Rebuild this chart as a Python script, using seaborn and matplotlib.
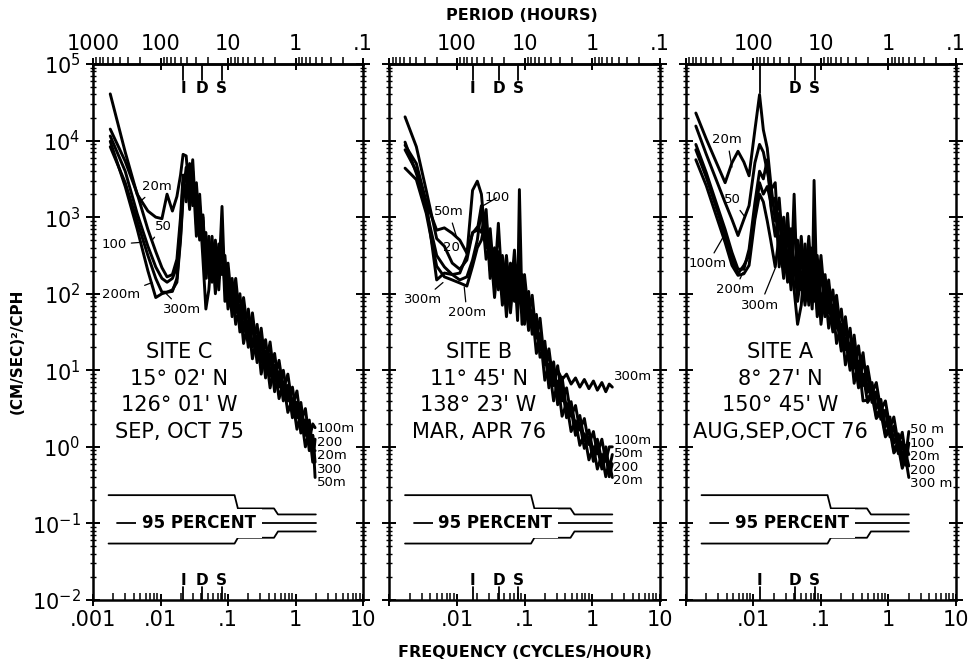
import matplotlib
matplotlib.use("Agg")
import matplotlib.pyplot as plt
import matplotlib.ticker as mticker
import numpy as np
import pandas as pd
import seaborn as sns

sns.set_style("ticks", {"axes.edgecolor": "black", "xtick.color": "black", "ytick.color": "black",
                        "text.color": "black", "axes.labelcolor": "black"})
plt.rcParams["font.family"] = ["DejaVu Sans"]
plt.rcParams["axes.unicode_minus"] = False

DEPTHS = ["20m", "50m", "100m", "200m", "300m"]

# spectral levels in decades (log10 of (cm/s)^2/cph)

# site C
FREQ_C = [0.0018, 0.003, 0.0045, 0.0065, 0.0085, 0.0105, 0.0125, 0.015, 0.0175, 0.0198, 0.0216,
          0.024, 0.027, 0.030, 0.034, 0.038, 0.0425, 0.047, 0.052, 0.058, 0.065, 0.073, 0.0815,
          0.09, 0.10, 0.115, 0.13, 0.15, 0.17, 0.20, 0.23, 0.27, 0.31, 0.36, 0.42, 0.49, 0.57,
          0.66, 0.77, 0.90, 1.05, 1.2, 1.4, 1.6, 1.8, 1.95]
LOGP_C_20 = [4.61, 3.85, 3.30, 3.08, 3.0, 2.98, 3.30, 3.08, 3.27, 3.55, 3.82,
             3.8, 3.25, 3.75, 2.9, 3.3, 2.6, 2.8, 2.2, 2.75, 2.15, 2.65, 2.4, 2.5,
             1.95, 2.2, 1.75, 2.0, 1.5, 1.8, 1.3, 1.6, 1.1, 1.4, 0.92, 1.22,
             0.78, 1.0, 0.6, 0.78, 0.38, 0.58, 0.15, 0.35, -0.05, -0.05]
LOGP_C_50 = [4.15, 3.73, 3.31, 2.84, 2.55, 2.34, 2.22, 2.25, 2.45, 3.0, 3.55,
             3.2, 3.65, 3.15, 3.3, 2.7, 3.0, 2.2, 2.6, 2.15, 2.55, 2.05, 2.8, 1.9,
             2.25, 1.7, 2.05, 1.5, 1.8, 1.3, 1.6, 1.1, 1.4, 0.9, 1.22, 0.72,
             0.98, 0.6, 0.8, 0.38, 0.58, 0.18, 0.35, -0.05, 0.15, -0.4]
LOGP_C_100 = [4.06, 3.6, 3.05, 2.62, 2.35, 2.2, 2.15, 2.2, 2.35, 2.9, 3.45,
              3.35, 3.7, 3.3, 3.45, 2.85, 3.03, 2.35, 2.75, 2.3, 2.7, 2.2, 3.14, 2.05,
              2.4, 1.85, 2.2, 1.65, 1.95, 1.45, 1.75, 1.25, 1.55, 1.05, 1.37, 0.87,
              1.13, 0.75, 0.95, 0.53, 0.73, 0.33, 0.5, 0.1, 0.3, 0.25]
LOGP_C_200 = [3.99, 3.4, 2.85, 2.3, 1.95, 2.0, 2.02, 2.03, 2.2, 2.75, 3.3,
              3.65, 3.1, 3.6, 2.75, 3.15, 2.45, 1.8, 2.05, 2.6, 2.0, 2.5, 2.25, 2.35,
              1.8, 2.05, 1.6, 1.85, 1.35, 1.65, 1.15, 1.45, 0.95, 1.25, 0.77, 1.07,
              0.63, 0.85, 0.45, 0.63, 0.23, 0.43, 0.0, 0.2, -0.2, 0.1]
LOGP_C_300 = [3.92, 3.45, 2.95, 2.5, 2.2, 2.02, 2.02, 2.05, 2.15, 2.7, 3.25,
              3.35, 3.6, 3.3, 3.25, 2.85, 2.95, 2.35, 2.52, 2.3, 2.47, 2.2, 2.75, 2.05,
              2.22, 1.83, 2.02, 1.63, 1.77, 1.43, 1.57, 1.23, 1.37, 1.03, 1.19, 0.85,
              0.98, 0.7, 0.8, 0.48, 0.58, 0.28, 0.35, 0.05, 0.15, -0.2]

# site B
FREQ_B = [0.0017, 0.0025, 0.0035, 0.005, 0.0065, 0.0085, 0.011, 0.014, 0.017, 0.020,
          0.023, 0.027, 0.031, 0.036, 0.041, 0.047, 0.054, 0.062, 0.071, 0.079, 0.084, 0.092, 0.10,
          0.115, 0.13, 0.15, 0.17, 0.20, 0.23, 0.27, 0.31, 0.36, 0.42, 0.49, 0.57, 0.66, 0.77,
          0.90, 1.05, 1.2, 1.4, 1.6, 1.8, 2.0]
LOGP_B_20 = [4.31, 3.92, 3.35, 2.72, 2.62, 2.40, 2.32, 2.44, 2.80, 2.83,
             3.15, 2.45, 2.65, 1.95, 2.5, 1.85, 2.3, 1.75, 2.35, 1.65, 2.35, 1.6, 2.05,
             1.52, 1.78, 1.22, 1.48, 0.87, 1.08, 0.6, 0.86, 0.4, 0.57, 0.2, 0.34, 0.02, 0.17,
             -0.17, 0.0, -0.29, -0.1, -0.39, -0.2, -0.4]
LOGP_B_50 = [3.94, 3.70, 3.2, 2.83, 2.86, 2.79, 2.70, 2.53, 2.79, 2.87,
             2.8, 3.1, 2.3, 2.6, 2.15, 2.5, 1.95, 2.4, 2.0, 2.3, 2.0, 2.25, 1.7,
             2.03, 1.57, 1.73, 1.27, 1.38, 0.87, 1.11, 0.65, 0.91, 0.48, 0.59, 0.25, 0.41, 0.08,
             0.22, -0.09, 0.1, -0.19, 0.0, -0.29, -0.1]
LOGP_B_100 = [3.88, 3.60, 3.1, 2.5, 2.35, 2.25, 2.27, 2.5, 3.35, 3.47,
              3.3, 2.6, 2.85, 2.15, 2.92, 2.05, 2.5, 1.95, 2.57, 1.85, 3.36, 1.8, 2.25,
              1.72, 1.98, 1.42, 1.68, 1.07, 1.28, 0.8, 1.06, 0.6, 0.77, 0.4, 0.54, 0.22, 0.37,
              0.03, 0.2, -0.09, 0.1, -0.19, 0.0, 0.0]
LOGP_B_200 = [3.64, 3.49, 3.05, 2.36, 2.22, 2.18, 2.14, 2.10, 2.36, 2.6,
              2.7, 3.0, 2.2, 2.5, 2.05, 2.4, 1.7, 2.3, 1.9, 2.2, 1.9, 2.15, 1.6,
              1.93, 1.47, 1.63, 1.17, 1.28, 0.77, 1.01, 0.55, 0.81, 0.38, 0.49, 0.15, 0.31, -0.02,
              0.12, -0.19, 0.0, -0.29, -0.1, -0.39, -0.22]
LOGP_B_300 = [3.98, 3.57, 3.2, 2.18, 2.27, 2.25, 2.18, 2.22, 2.44, 2.7,
              3.1, 2.6, 2.7, 2.1, 2.55, 2.0, 2.35, 1.9, 2.4, 1.8, 2.4, 1.75, 2.1,
              1.65, 1.75, 1.45, 1.45, 1.2, 1.15, 0.98, 1.0, 0.88, 0.95, 0.82, 0.9, 0.78, 0.88,
              0.76, 0.86, 0.74, 0.84, 0.72, 0.82, 0.78]

# site A
FREQ_A = [0.0014, 0.002, 0.0028, 0.0038, 0.0048, 0.0059, 0.0072, 0.0086, 0.0105, 0.0123,
          0.014, 0.016, 0.018, 0.021, 0.024, 0.028, 0.032, 0.036, 0.040, 0.045, 0.051, 0.058,
          0.066, 0.074, 0.079, 0.088, 0.10,
          0.115, 0.13, 0.15, 0.17, 0.20, 0.23, 0.27, 0.31, 0.36, 0.42, 0.49, 0.57, 0.66, 0.77,
          0.90, 1.05, 1.2, 1.4, 1.6, 1.8, 2.0]
LOGP_A_20 = [4.36, 4.02, 3.72, 3.45, 3.71, 3.86, 3.72, 3.54, 4.14, 4.60,
             4.14, 3.9, 3.45, 2.95, 3.25, 2.5, 3.05, 2.35, 2.95, 2.2, 2.75, 2.15, 2.75, 2.1, 2.8, 2.0, 2.5,
             1.88, 2.18, 1.68, 1.98, 1.43, 1.7, 1.18, 1.46, 0.95, 1.23, 0.71, 0.84, 0.5, 0.62,
             0.26, 0.39, 0.05, 0.17, -0.15, 0.02, -0.1]
LOGP_A_50 = [4.19, 3.82, 3.49, 3.19, 2.97, 2.76, 2.97, 3.15, 3.71, 3.95,
             3.85, 3.6, 3.35, 3.45, 2.55, 3.0, 2.35, 2.85, 2.25, 2.7, 2.05, 2.65, 2.05, 2.6, 2.1, 2.5, 1.8,
             2.25, 1.75, 2.05, 1.55, 1.8, 1.27, 1.55, 1.03, 1.32, 0.8, 1.05, 0.7, 0.84, 0.48,
             0.6, 0.25, 0.39, 0.03, 0.19, -0.12, 0.2]
LOGP_A_100 = [3.95, 3.58, 3.19, 2.84, 2.54, 2.32, 2.32, 2.58, 3.19, 3.6,
              3.5, 3.75, 3.15, 2.75, 3.05, 2.3, 2.85, 2.15, 3.3, 2.0, 2.55, 1.95, 2.55, 1.9, 3.48, 1.8, 2.3,
              1.75, 2.05, 1.55, 1.85, 1.3, 1.57, 1.05, 1.33, 0.82, 1.1, 0.93, 0.58, 0.72, 0.36,
              0.48, 0.13, 0.27, -0.09, 0.07, -0.24, 0.05]
LOGP_A_200 = [3.88, 3.52, 3.13, 2.76, 2.45, 2.26, 2.37, 2.50, 3.02, 3.45,
              3.3, 3.4, 3.2, 3.25, 2.35, 2.8, 2.15, 2.65, 2.05, 1.6, 1.85, 2.45, 1.85, 2.4, 1.9, 2.3, 1.6,
              2.05, 1.55, 1.85, 1.35, 1.6, 1.07, 1.35, 0.83, 1.12, 0.6, 0.61, 0.74, 0.4, 0.52,
              0.16, 0.29, -0.05, 0.07, -0.25, -0.08, -0.25]
LOGP_A_300 = [3.75, 3.41, 3.02, 2.67, 2.37, 2.24, 2.26, 2.37, 2.97, 3.30,
              3.2, 2.95, 2.7, 2.35, 2.75, 2.2, 2.55, 2.05, 2.45, 1.9, 2.25, 1.85, 2.25, 1.8, 2.3, 1.7, 2.0,
              1.7, 1.9, 1.5, 1.7, 1.25, 1.42, 1.0, 1.18, 0.77, 0.95, 0.58, 0.67, 0.37, 0.45,
              0.13, 0.22, -0.08, 0.0, -0.28, -0.15, -0.4]

# inertial (I), diurnal (D) and semidiurnal (S) frequencies, cph
INERTIAL_FREQ = [0.0216, 0.0170, 0.0123]
DIURNAL_FREQ = 0.0417
SEMIDIURNAL_FREQ = 0.0805

# 95 percent confidence bar
CI_FREQ = [0.0017, 0.125, 0.14, 0.48, 0.55, 2.0]
CI_UPPER = [0.234, 0.234, 0.157, 0.157, 0.131, 0.131]
CI_LOWER = [0.0546, 0.0546, 0.065, 0.065, 0.0785, 0.0785]
CI_MID_FREQ = [0.0023, 2.0]
CI_MID = [0.1, 0.1]

SITE_LABELS = ["SITE C\n15° 02' N\n126° 01' W\nSEP, OCT 75",
               "SITE B\n11° 45' N\n138° 23' W\nMAR, APR 76",
               "SITE A\n8° 27' N\n150° 45' W\nAUG,SEP,OCT 76"]
END_LABELS = ["100m\n200\n20m\n300\n50m",
              "100m\n50m\n200\n20m",
              "50 m\n100\n20m\n200\n300 m"]


def to_period(x):
    x = np.asarray(x, dtype=float)
    with np.errstate(divide="ignore"):
        return 1.0 / x


def spectra_frame(freq, series):
    parts = []
    for depth, logp in zip(DEPTHS, series):
        part = pd.DataFrame({"freq": freq, "logp": logp})
        part["psd"] = np.power(10.0, part["logp"])
        part["depth"] = depth
        parts.append(part)
    return pd.concat(parts, ignore_index=True)


def style_axis(ax, first):
    ax.set_xscale("log")
    ax.set_yscale("log")
    ax.set_xlim(1e-3, 10)
    ax.set_ylim(1e-2, 1e5)
    ax.set_xlabel("")
    ax.set_ylabel("")

    xlabels = [".001", ".01", ".1", "1", "10"] if first else ["", ".01", ".1", "1", "10"]
    ax.set_xticks([1e-3, 1e-2, 1e-1, 1, 10], xlabels)
    ax.xaxis.set_minor_locator(mticker.LogLocator(base=10, subs=np.arange(2, 10), numticks=50))
    ax.xaxis.set_minor_formatter(mticker.NullFormatter())
    ax.set_yticks([1e-2, 1e-1, 1e0, 1e1, 1e2, 1e3, 1e4, 1e5])
    ax.yaxis.set_major_formatter(mticker.LogFormatterSciNotation())
    ax.yaxis.set_minor_locator(mticker.LogLocator(base=10, subs=np.arange(2, 10), numticks=50))
    ax.yaxis.set_minor_formatter(mticker.NullFormatter())
    ax.set_ylim(1e-2, 1e5)

    ax.tick_params(axis="x", which="major", direction="inout", length=9, width=1.4,
                   labelsize=15, pad=3, top=False, bottom=True)
    ax.tick_params(axis="x", which="minor", direction="in", length=5, width=1.1, top=False)
    ax.tick_params(axis="y", which="major", direction="inout", length=10, width=1.4,
                   left=True, right=True, labelsize=15, labelleft=first, pad=4)
    ax.tick_params(axis="y", which="minor", direction="inout", length=5, width=1.0,
                   left=True, right=True)
    for spine in ax.spines.values():
        spine.set_linewidth(1.8)

    sec = ax.secondary_xaxis("top", functions=(to_period, to_period))
    plabels = ["1000", "100", "10", "1", ".1"] if first else ["", "100", "10", "1", ".1"]
    sec.set_xticks([1000, 100, 10, 1, 0.1], plabels)
    sec.xaxis.set_minor_locator(mticker.LogLocator(base=10, subs=np.arange(2, 10), numticks=50))
    sec.xaxis.set_minor_formatter(mticker.NullFormatter())
    sec.tick_params(which="major", direction="inout", length=9, width=1.4, labelsize=15, pad=3)
    sec.tick_params(which="minor", direction="out", length=5, width=1.1)
    sec.spines["top"].set_linewidth(1.8)


def draw_markers(ax, inertial, long_top_i):
    xt = ax.get_xaxis_transform()
    for f, letter in [(inertial, "I"), (DIURNAL_FREQ, "D"), (SEMIDIURNAL_FREQ, "S")]:
        ax.plot([f, f], [0.0, 0.025], transform=xt, color="black", lw=1.3, clip_on=False)
        ax.text(f, 0.037, letter, transform=xt, ha="center", va="center", fontsize=11, fontweight="bold")
        if letter == "I" and long_top_i:
            ax.plot([f, f], [1.0, 0.946], transform=xt, color="black", lw=1.3)
        else:
            ax.plot([f, f], [1.0, 0.97], transform=xt, color="black", lw=1.3)
            ax.text(f, 0.955, letter, transform=xt, ha="center", va="center", fontsize=11, fontweight="bold")


def draw_confidence(ax):
    ax.plot(CI_FREQ, CI_UPPER, color="black", lw=1.3)
    ax.plot(CI_FREQ, CI_LOWER, color="black", lw=1.3)
    ax.plot(CI_MID_FREQ, CI_MID, color="black", lw=1.3)
    ax.text(0.037, 0.1, "95 PERCENT", ha="center", va="center", fontsize=12, fontweight="bold",
            bbox=dict(boxstyle="square,pad=0.35", facecolor="white", edgecolor="none"))


def label_lines(ax, specs):
    for text, point, where in specs:
        if point is None:
            ax.text(where[0], where[1], text, ha="center", va="center", fontsize=9.5)
        else:
            ax.annotate(text, xy=point, xytext=where, ha="center", va="center", fontsize=9.5,
                        arrowprops=dict(arrowstyle="-", lw=0.9, color="black", shrinkA=1, shrinkB=0))


fig, axes = plt.subplots(1, 3, figsize=(9.71, 6.64), dpi=100)
fig.subplots_adjust(left=93 / 971, right=956 / 971, bottom=0.0964, top=0.9036, wspace=0.098)

panels = [
    (FREQ_C, [LOGP_C_20, LOGP_C_50, LOGP_C_100, LOGP_C_200, LOGP_C_300]),
    (FREQ_B, [LOGP_B_20, LOGP_B_50, LOGP_B_100, LOGP_B_200, LOGP_B_300]),
    (FREQ_A, [LOGP_A_20, LOGP_A_50, LOGP_A_100, LOGP_A_200, LOGP_A_300]),
]

line_labels = [
    [("20m", (0.005, 1600), (0.0089, 2500)),
     ("50", (0.0075, 500), (0.011, 760)),
     ("100", (0.0053, 470), (0.00205, 440)),
     ("200m", (0.0075, 140), (0.0026, 98)),
     ("300m", (0.0115, 105), (0.021, 62))],
    [("50m", (0.0098, 560), (0.0076, 1170)),
     ("20", None, (0.0084, 400)),
     ("100", (0.024, 1400), (0.040, 1820)),
     ("300m", (0.0062, 140), (0.0031, 83)),
     ("200m", (0.0128, 123), (0.014, 56))],
    [("20m", (0.0048, 4500), (0.0041, 10200)),
     ("50", (0.0075, 1000), (0.0048, 1700)),
     ("100m", (0.0036, 560), (0.0021, 245)),
     ("200m", (0.0070, 190), (0.0053, 112)),
     ("300m", (0.021, 215), (0.0126, 71))],
]
site_x = [0.32, 0.33, 0.35]
end_y = [0.269, 0.26, 0.267]

for i, ax in enumerate(axes):
    freq, series = panels[i]
    df = spectra_frame(freq, series)
    sns.lineplot(data=df, x="freq", y="psd", hue="depth", palette={d: "black" for d in DEPTHS},
                 estimator=None, sort=False, legend=False, lw=2.1, ax=ax)
    style_axis(ax, i == 0)
    draw_markers(ax, INERTIAL_FREQ[i], long_top_i=(i == 2))
    draw_confidence(ax)
    label_lines(ax, line_labels[i])

    ax.text(site_x[i], 0.388, SITE_LABELS[i], transform=ax.transAxes, ha="center", va="center",
            fontsize=15, linespacing=1.4)
    ax.text(2.08, end_y[i], END_LABELS[i], transform=ax.get_xaxis_transform(), ha="left",
            va="center", fontsize=9.5, linespacing=1.05)

axes[1].text(2.1, 0.417, "300m", transform=axes[1].get_xaxis_transform(), ha="left",
             va="center", fontsize=9.5)

fig.text(522 / 971, 0.976, "PERIOD (HOURS)", ha="center", va="center", fontsize=11.5, fontweight="bold")
fig.text(525 / 971, 0.017, "FREQUENCY (CYCLES/HOUR)", ha="center", va="center", fontsize=11.5,
         fontweight="bold")
fig.text(17 / 971, 0.4714, "(CM/SEC)²/CPH", rotation=90, ha="center", va="center", fontsize=11,
         fontweight="bold")

fig.savefig("out.png", dpi=100)
